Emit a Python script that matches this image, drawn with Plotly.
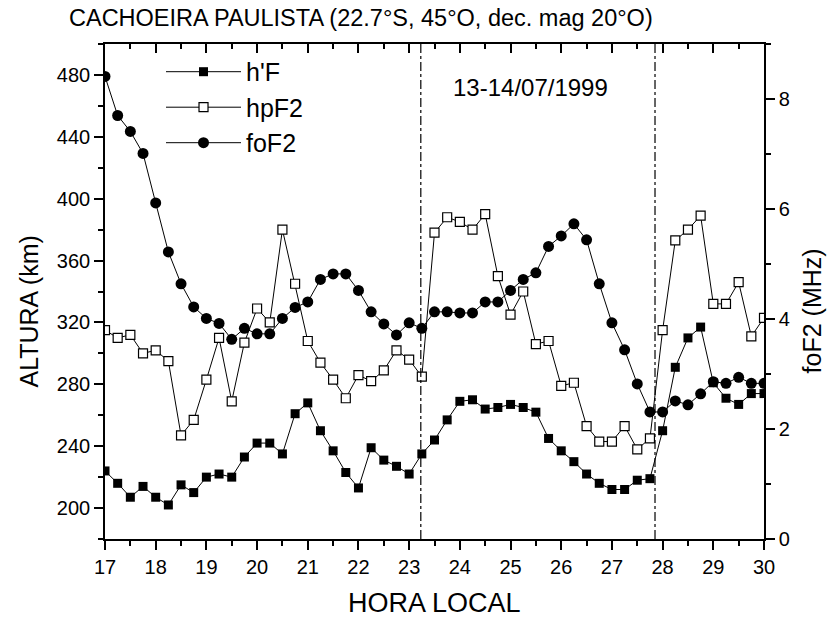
import plotly.graph_objects as go

# ---------------- data ----------------
hora = [17.0, 17.25, 17.5, 17.75, 18.0, 18.25, 18.5, 18.75, 19.0, 19.25, 19.5, 19.75,
        20.0, 20.25, 20.5, 20.75, 21.0, 21.25, 21.5, 21.75, 22.0, 22.25, 22.5, 22.75,
        23.0, 23.25, 23.5, 23.75, 24.0, 24.25, 24.5, 24.75, 25.0, 25.25, 25.5, 25.75,
        26.0, 26.25, 26.5, 26.75, 27.0, 27.25, 27.5, 27.75, 28.0, 28.25, 28.5, 28.75,
        29.0, 29.25, 29.5, 29.75, 30.0]

h_F = [224, 216, 207, 214, 207, 202, 215, 210, 220, 222, 220, 233,
       242, 242, 235, 261, 268, 250, 237, 223, 213, 239, 231, 227,
       222, 235, 244, 257, 269, 270, 264, 265, 267, 265, 262, 245,
       237, 230, 222, 216, 212, 212, 218, 219, 250, 291, 310, 317,
       281, 271, 267, 274, 274]

hpF2 = [315, 310, 312, 300, 302, 295, 247, 257, 283, 310, 269, 307,
        329, 320, 380, 345, 308, 294, 283, 271, 286, 282, 289, 302,
        296, 285, 378, 388, 385, 380, 390, 350, 325, 340, 306, 308,
        279, 281, 253, 243, 243, 253, 238, 245, 315, 373, 380, 389,
        332, 332, 346, 311, 323]

foF2 = [8.41, 7.70, 7.41, 7.01, 6.11, 5.22, 4.64, 4.22, 4.01, 3.92, 3.63, 3.83,
        3.73, 3.73, 4.01, 4.21, 4.31, 4.72, 4.82, 4.82, 4.52, 4.13, 3.91, 3.71,
        3.93, 3.83, 4.13, 4.13, 4.11, 4.11, 4.31, 4.31, 4.52, 4.72, 4.84, 5.32,
        5.51, 5.73, 5.44, 4.64, 3.93, 3.44, 2.82, 2.31, 2.31, 2.51, 2.44, 2.64,
        2.86, 2.83, 2.94, 2.83, 2.83]

separadores = [23.23, 27.85]   # dash-dot day/night markers (hours)

titulo = "CACHOEIRA PAULISTA (22.7°S, 45°O, dec. mag 20°O)"
data_txt = "13-14/07/1999"

FONT = "Liberation Sans, Arial, sans-serif"

fig = go.Figure()

fig.add_trace(go.Scatter(
    x=hora, y=h_F, name="h'F", mode="lines+markers",
    line=dict(color="black", width=1),
    marker=dict(symbol="square", size=9, color="black"),
    yaxis="y"))
fig.add_trace(go.Scatter(
    x=hora, y=hpF2, name="hpF2", mode="lines+markers",
    line=dict(color="black", width=1),
    marker=dict(symbol="square", size=9, color="white",
                line=dict(color="black", width=1.2)),
    yaxis="y"))
fig.add_trace(go.Scatter(
    x=hora, y=foF2, name="foF2", mode="lines+markers",
    line=dict(color="black", width=1),
    marker=dict(symbol="circle", size=11, color="black"),
    yaxis="y2"))
# empty trace to activate the top (mirror) axis with inward ticks
fig.add_trace(go.Scatter(x=[], y=[], xaxis="x2", yaxis="y",
                         showlegend=False, hoverinfo="skip"))

for s in separadores:
    fig.add_shape(type="line", xref="x", yref="paper", x0=s, x1=s, y0=0, y1=1,
                  line=dict(color="black", width=1.2, dash="dashdot"))

axis_common = dict(showline=True, linecolor="black", linewidth=1.6,
                   showgrid=False, zeroline=False, tickcolor="black",
                   tickwidth=1.5, tickfont=dict(family=FONT, size=20, color="black"))

fig.update_layout(
    width=832, height=620,
    margin=dict(l=105, r=68, t=44, b=81),
    paper_bgcolor="white", plot_bgcolor="white",
    font=dict(family=FONT, color="black"),
    showlegend=True,
    legend=dict(x=0.085, y=0.99, xanchor="left", yanchor="top",
                bgcolor="rgba(0,0,0,0)", font=dict(family=FONT, size=25),
                itemwidth=75, tracegroupgap=7, traceorder="normal"),
    xaxis=dict(range=[17, 30], tick0=17, dtick=1, ticks="outside", ticklen=9,
               minor=dict(dtick=0.5, ticks="outside", ticklen=5, tickcolor="black"),
               **axis_common),
    xaxis2=dict(range=[17, 30], overlaying="x", side="top", anchor="y",
                tick0=17, dtick=1, ticks="inside", ticklen=9, showticklabels=False,
                minor=dict(dtick=0.5, ticks="inside", ticklen=5, tickcolor="black"),
                **axis_common),
    yaxis=dict(range=[180, 500], tick0=200, dtick=40, ticks="outside", ticklen=9,
               minor=dict(dtick=20, ticks="outside", ticklen=5, tickcolor="black"),
               **axis_common),
    yaxis2=dict(range=[0, 9], tick0=0, dtick=2, overlaying="y", side="right",
                ticks="outside", ticklen=9,
                minor=dict(dtick=1, ticks="outside", ticklen=5, tickcolor="black"),
                **axis_common),
)

ann_font = dict(family=FONT, color="black")
fig.add_annotation(text=titulo, xref="paper", yref="paper", x=-0.058, y=1.052,
                   xanchor="left", yanchor="middle", showarrow=False,
                   font=dict(size=23.5, **ann_font))
fig.add_annotation(text=data_txt, xref="paper", yref="paper", x=0.646, y=0.913,
                   xanchor="center", yanchor="middle", showarrow=False,
                   font=dict(size=24, **ann_font))
fig.add_annotation(text="ALTURA (km)", xref="paper", yref="paper", x=-0.115, y=0.46,
                   xanchor="center", yanchor="middle", textangle=-90, showarrow=False,
                   font=dict(size=25, **ann_font))
fig.add_annotation(text="foF2 (MHz)", xref="paper", yref="paper", x=1.073, y=0.46,
                   xanchor="center", yanchor="middle", textangle=-90, showarrow=False,
                   font=dict(size=25, **ann_font))
fig.add_annotation(text="HORA LOCAL", xref="paper", yref="paper", x=0.5, y=-0.13,
                   xanchor="center", yanchor="middle", showarrow=False,
                   font=dict(size=27, **ann_font))

fig.write_html("out.html")
